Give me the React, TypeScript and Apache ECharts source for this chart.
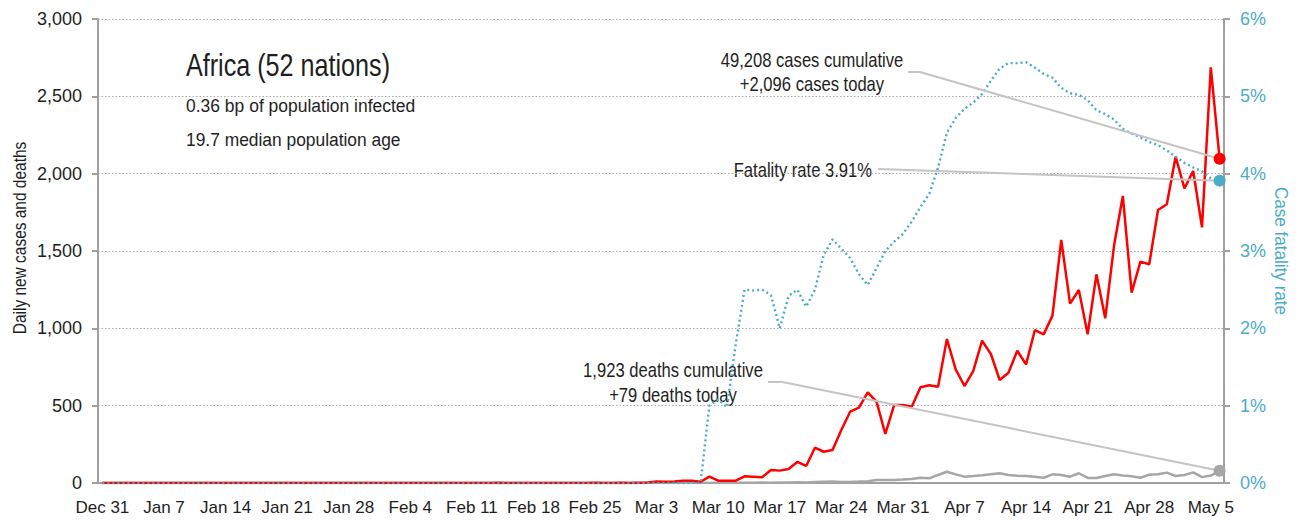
import React, { useEffect, useRef } from 'react';
import * as echarts from 'echarts';

const FONT = '"Liberation Sans", Arial, sans-serif';
const MONTHS = ['Jan', 'Feb', 'Mar', 'Apr', 'May', 'Jun', 'Jul', 'Aug', 'Sep', 'Oct', 'Nov', 'Dec'];

// Dates: Dec 31, 2019 .. May 6, 2020 (one category per day)
const dates: string[] = Array.from({ length: 128 }, (_, i) => {
  const d = new Date(2019, 11, 31 + i);
  return `${MONTHS[d.getMonth()]} ${d.getDate()}`;
});

// Daily new cases (one row per week starting Dec 31)
const dailyCases = [
  0, 0, 0, 0, 0, 0, 0,
  0, 0, 0, 0, 0, 0, 0,
  0, 0, 0, 0, 0, 0, 0,
  0, 0, 0, 0, 0, 0, 0,
  0, 0, 0, 0, 0, 0, 0,
  0, 0, 0, 0, 0, 0, 0,
  0, 0, 0, 1, 0, 0, 0,
  0, 0, 0, 0, 0, 0, 0,
  1, 0, 0, 1, 0, 2, 3,
  10, 8, 10, 15, 15, 8, 41,
  15, 15, 15, 43, 40, 37, 84,
  80, 90, 136, 110, 228, 202, 213,
  343, 461, 487, 586, 526, 317, 504,
  504, 493, 619, 632, 623, 931, 735,
  627, 725, 920, 834, 666, 713, 855,
  767, 989, 961, 1082, 1571, 1160, 1248,
  961, 1349, 1065, 1535, 1856, 1231, 1431,
  1414, 1765, 1802, 2110, 1905, 2017, 1653,
  2688, 2096,
];

// Daily new deaths
const dailyDeaths = [
  0, 0, 0, 0, 0, 0, 0,
  0, 0, 0, 0, 0, 0, 0,
  0, 0, 0, 0, 0, 0, 0,
  0, 0, 0, 0, 0, 0, 0,
  0, 0, 0, 0, 0, 0, 0,
  0, 0, 0, 0, 0, 0, 0,
  0, 0, 0, 0, 0, 0, 0,
  0, 0, 0, 0, 0, 0, 0,
  0, 0, 0, 0, 0, 0, 0,
  0, 0, 0, 0, 0, 1, 0,
  1, 1, 1, 2, 2, 3, 2,
  3, 4, 5, 4, 6, 8, 10,
  6, 7, 9, 12, 19, 19, 19,
  22, 26, 34, 30, 52, 73, 56,
  41, 45, 50, 56, 63, 52, 47,
  45, 40, 34, 56, 52, 41, 63,
  33, 32, 45, 56, 48, 43, 34,
  54, 56, 67, 45, 52, 69, 38,
  48, 79,
];

// Case fatality rate, percent
const fatalityRate = [
  0, 0, 0, 0, 0, 0, 0,
  0, 0, 0, 0, 0, 0, 0,
  0, 0, 0, 0, 0, 0, 0,
  0, 0, 0, 0, 0, 0, 0,
  0, 0, 0, 0, 0, 0, 0,
  0, 0, 0, 0, 0, 0, 0,
  0, 0, 0, 0, 0, 0, 0,
  0, 0, 0, 0, 0, 0, 0,
  0, 0, 0, 0, 0, 0, 0,
  0, 0, 0, 0, 0, 0, 1.0,
  1.08, 0.98, 1.8, 2.5, 2.49, 2.5, 2.43,
  2.0, 2.42, 2.5, 2.28, 2.5, 2.95, 3.15,
  3.03, 2.91, 2.7, 2.56, 2.78, 3.0, 3.12,
  3.22, 3.38, 3.57, 3.74, 4.08, 4.53, 4.72,
  4.84, 4.92, 5.03, 5.2, 5.36, 5.43, 5.43,
  5.44, 5.37, 5.29, 5.24, 5.11, 5.04, 5.02,
  4.95, 4.82, 4.77, 4.7, 4.58, 4.52, 4.47,
  4.41, 4.37, 4.3, 4.22, 4.14, 4.08, 4.03,
  3.94, 3.91,
];

const leftTicks = [0, 500, 1000, 1500, 2000, 2500, 3000];
const rightTicks = [0, 1, 2, 3, 4, 5, 6];

const TITLE = 'Africa (52 nations)';
const SUB1 = '0.36 bp of population infected';
const SUB2 = '19.7 median population age';
const CASES_NOTE = ['49,208 cases cumulative', '+2,096 cases today'];
const CFR_NOTE = 'Fatality rate 3.91%';
const DEATHS_NOTE = ['1,923 deaths cumulative', '+79 deaths today'];
const LEFT_NAME = 'Daily new cases and deaths';
const RIGHT_NAME = 'Case fatality rate';

const RED = '#ff0000';
const BLUE = '#4bacc6';
const GREY = '#a6a6a6';
const LEADER = '#c4c4c4';
const TEXT = '#1e1e1e';
const AXIS = '#a0a0a0';

function txt(
  text: string,
  x: number,
  y: number,
  size: number,
  align: string,
  sx: number,
  rotation = 0,
  fill = TEXT,
) {
  return {
    type: 'text',
    x,
    y,
    scaleX: sx,
    rotation,
    silent: true,
    style: {
      text,
      x: 0,
      y: 0,
      font: `${size}px ${FONT}`,
      fill,
      align,
      verticalAlign: 'middle',
      textAlign: align,
      textVerticalAlign: 'middle',
    },
  };
}

export default function App() {
  const ref = useRef<HTMLDivElement>(null);
  useEffect(() => {
    if (!ref.current) return;
    const chart = echarts.init(ref.current, undefined, { renderer: 'svg' });
    const last = dates.length - 1;
    const leaderStyle = { color: LEADER, width: 2, type: 'solid' };
    const markBase = {
      silent: true,
      symbol: ['none', 'none'],
      label: { show: false },
      lineStyle: leaderStyle,
      animation: false,
      emphasis: { disabled: true },
    };
    const option: any = {
      animation: false,
      backgroundColor: '#ffffff',
      textStyle: { fontFamily: FONT },
      grid: { left: 98, right: 75, top: 19, bottom: 42, containLabel: false },
      xAxis: {
        type: 'category',
        data: dates,
        boundaryGap: true,
        axisLine: { lineStyle: { color: AXIS, width: 2 } },
        axisTick: { interval: 6, length: 6, lineStyle: { color: AXIS, width: 2 } },
        axisLabel: { interval: 6, color: TEXT, fontSize: 17, fontFamily: FONT, margin: 16 },
        splitLine: { show: false },
      },
      yAxis: [
        {
          type: 'value',
          position: 'left',
          min: leftTicks[0],
          max: leftTicks[leftTicks.length - 1],
          interval: 500,
          axisLine: { show: true, lineStyle: { color: AXIS, width: 2 } },
          axisTick: { show: true, length: 6, lineStyle: { color: AXIS, width: 2 } },
          axisLabel: {
            color: TEXT,
            fontSize: 18,
            fontFamily: FONT,
            margin: 16,
            formatter: (v: number) => v.toLocaleString('en-US'),
          },
          splitLine: { show: true, lineStyle: { type: [1.5, 2], color: '#aaaaaa', width: 1 } },
        },
        {
          type: 'value',
          position: 'right',
          min: rightTicks[0],
          max: rightTicks[rightTicks.length - 1],
          interval: 1,
          axisLine: { show: true, lineStyle: { color: AXIS, width: 2 } },
          axisTick: { show: true, length: 6, lineStyle: { color: AXIS, width: 2 } },
          axisLabel: { color: BLUE, fontSize: 18, fontFamily: FONT, margin: 16, formatter: '{value}%' },
          splitLine: { show: false },
        },
      ],
      series: [
        {
          name: 'Daily deaths',
          type: 'line',
          data: dailyDeaths,
          symbol: 'none',
          lineStyle: { color: GREY, width: 2.5 },
          z: 2,
        },
        {
          name: 'Daily cases',
          type: 'line',
          data: dailyCases,
          symbol: 'none',
          lineStyle: { color: RED, width: 2.5 },
          z: 3,
        },
        {
          name: 'Case fatality rate',
          type: 'line',
          yAxisIndex: 1,
          data: fatalityRate,
          symbol: 'none',
          lineStyle: { color: BLUE, width: 2.4, type: [2, 3] },
          z: 4,
        },
        {
          name: 'cases today',
          type: 'scatter',
          data: [[dates[last], dailyCases[last]]],
          symbolSize: 12,
          itemStyle: { color: RED, opacity: 1 },
          z: 6,
          markLine: {
            ...markBase,
            data: [
              [{ x: 908, y: 72 }, { x: 920, y: 72 }],
              [{ x: 920, y: 72 }, { coord: [dates[last], dailyCases[last]] }],
            ],
          },
        },
        {
          name: 'cfr today',
          type: 'scatter',
          yAxisIndex: 1,
          data: [[dates[last], fatalityRate[last]]],
          symbolSize: 12,
          itemStyle: { color: BLUE, opacity: 1 },
          z: 6,
          markLine: {
            ...markBase,
            data: [[{ x: 878, y: 169 }, { coord: [dates[last], fatalityRate[last]] }]],
          },
        },
        {
          name: 'deaths today',
          type: 'scatter',
          data: [[dates[last], dailyDeaths[last]]],
          symbolSize: 12,
          itemStyle: { color: GREY, opacity: 1 },
          z: 6,
          markLine: {
            ...markBase,
            data: [
              [{ x: 768, y: 381.5 }, { x: 780, y: 381.5 }],
              [{ x: 780, y: 381.5 }, { coord: [dates[last], dailyDeaths[last]] }],
            ],
          },
        },
      ],
      graphic: [
        txt(TITLE, 186, 65, 32, 'left', 0.786),
        txt(SUB1, 186, 105, 19, 'left', 0.92),
        txt(SUB2, 186, 140, 19, 'left', 0.915),
        txt(CASES_NOTE[0], 812, 60, 20, 'center', 0.83),
        txt(CASES_NOTE[1], 812, 84, 20, 'center', 0.83),
        txt(CFR_NOTE, 872, 170, 20, 'right', 0.83),
        txt(DEATHS_NOTE[0], 673, 370, 20, 'center', 0.83),
        txt(DEATHS_NOTE[1], 673, 395, 20, 'center', 0.83),
        txt(LEFT_NAME, 20, 238, 18, 'center', 0.86, Math.PI / 2),
        txt(RIGHT_NAME, 1281, 251, 18, 'center', 0.95, -Math.PI / 2, BLUE),
      ],
    };
    chart.setOption(option);
    return () => chart.dispose();
  }, []);
  return (
    <div
      ref={ref}
      style={{ position: 'fixed', left: 0, top: 0, width: 1299, height: 525, background: '#fff' }}
    />
  );
}
